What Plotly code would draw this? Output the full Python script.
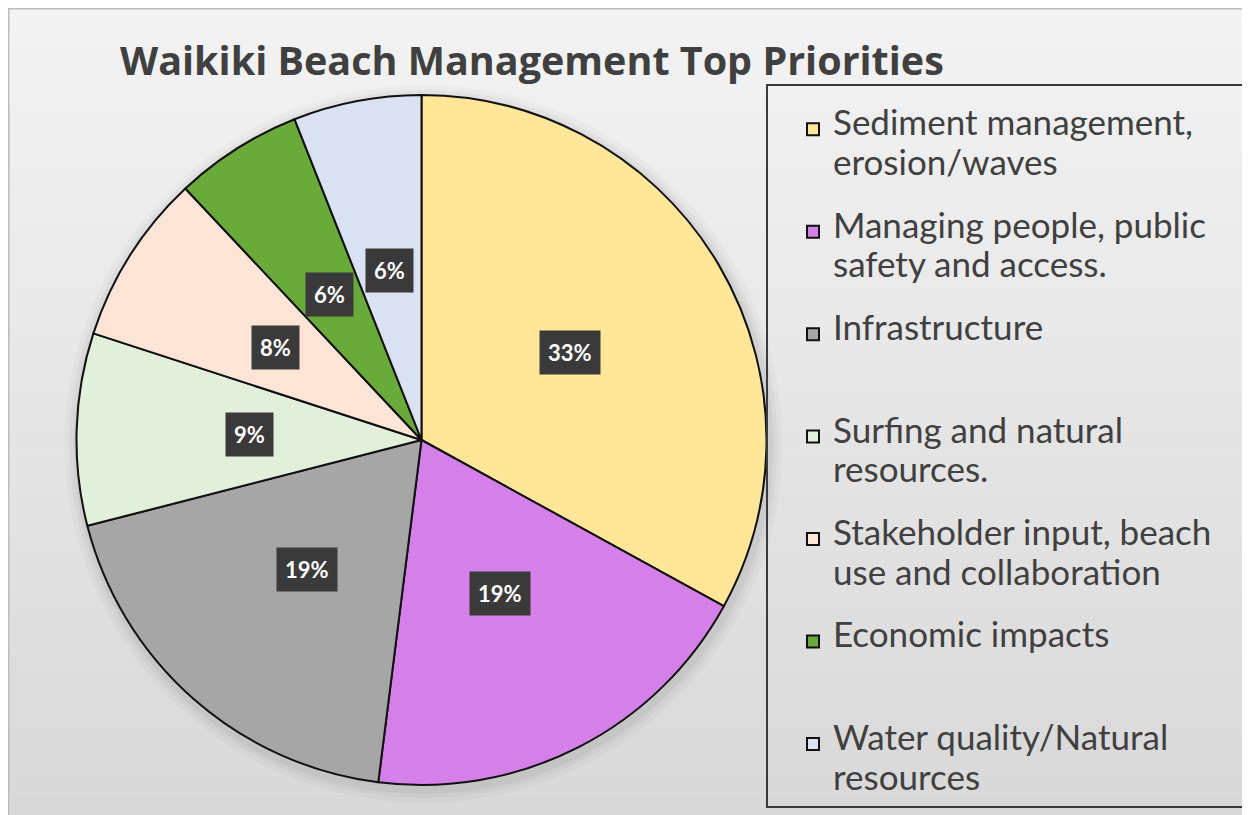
import math
import plotly.graph_objects as go

# ---------------- data ----------------
categories = [
    "Sediment management,|erosion/waves",
    "Managing people, public|safety and access.",
    "Infrastructure|",
    "Surfing and natural|resources.",
    "Stakeholder input, beach|use and collaboration",
    "Economic impacts|",
    "Water quality/Natural|resources",
]
values = [33, 19, 19, 9, 8, 6, 6]
pct_labels = ["33%", "19%", "19%", "9%", "8%", "6%", "6%"]
colors = ["#FFE699", "#D580E8", "#A6A6A6", "#E2EFDA", "#FCE4D6", "#6AAA3A", "#D9E1F2"]

title_text = "Waikiki Beach Management Top Priorities"

# ---------------- layout helpers (screen px of the 1250x815 page) ----------------
OFF = 8                      # page body margin
W, H = 1250 - OFF, 815 - OFF
def fx(X):
    return (X - OFF) / W
def fy(Y):
    return 1 - (Y - OFF) / H

dom_x = [fx(75), fx(768)]
dom_y = [fy(785), fy(95)]
R = min((dom_x[1] - dom_x[0]) * W, (dom_y[1] - dom_y[0]) * H) / 2
cxs = OFF + (dom_x[0] + dom_x[1]) / 2 * W          # screen centre x
cys = OFF + H - (dom_y[0] + dom_y[1]) / 2 * H      # screen centre y

LEG_BASE = 15.3
LEG_VIS = 35

def legend_label(s):
    a, b = s.split("|")
    sp = lambda t: f"<span style='font-size:{LEG_VIS}px'>{t}</span>" if t else "&nbsp;"
    # five text rows: the symbol (valign middle) sits on row 3 = first visible line
    return "<br>".join(["&nbsp;", "&nbsp;", sp(a), "&nbsp;", sp(b)])

labels = [legend_label(c) for c in categories]

fig = go.Figure()
fig.add_trace(go.Pie(
    labels=labels,
    values=values,
    sort=False,
    direction="clockwise",
    rotation=0,
    marker=dict(colors=colors, line=dict(color="#111111", width=2)),
    textinfo="none",
    hoverinfo="label+percent",
    domain=dict(x=dom_x, y=dom_y),
    showlegend=True,
))

# percent label boxes at half radius on each slice's mid angle
total = sum(values)
cum = 0
annotations = []
for v, t in zip(values, pct_labels):
    th = 2 * math.pi * (cum + v / 2) / total
    cum += v
    X = cxs + 0.5 * R * math.sin(th)
    Y = cys - 0.5 * R * math.cos(th)
    annotations.append(dict(
        x=fx(X), y=fy(Y), xref="paper", yref="paper",
        text=f"<b>{t}</b>", showarrow=False,
        font=dict(family="Lato", size=22, color="white"),
        bgcolor="#3a3a3a", borderpad=8,
        xanchor="center", yanchor="middle",
    ))

# background: vertical gradient bands
shapes = []
n = 40
top_c, bot_c = 0xF3, 0xD8
for i in range(n):
    ya = H * i / n
    yb = H * (i + 1) / n
    c = round(top_c + (bot_c - top_c) * (i + 0.5) / n)
    shapes.append(dict(type="rect", xref="paper", yref="paper",
                       x0=0, x1=1, y0=1 - yb / H, y1=1 - ya / H + 0.0005,
                       fillcolor=f"rgb({c},{c},{c})", line=dict(width=0), layer="below"))
shapes.append(dict(type="rect", xref="paper", yref="paper",
                   x0=0, x1=1.01, y0=-0.01, y1=1,
                   fillcolor="rgba(0,0,0,0)", line=dict(color="#bdbdbd", width=3), layer="below"))
# soft shadow behind pie
for k, a in [(14, 0.025), (9, 0.03), (5, 0.04)]:
    r = R + k
    shapes.append(dict(type="circle", xref="paper", yref="paper",
                       x0=fx(cxs - r + 2), x1=fx(cxs + r + 2),
                       y0=fy(cys + r + 4), y1=fy(cys - r + 4),
                       fillcolor=f"rgba(0,0,0,{a})", line=dict(width=0), layer="below"))
# legend frame
shapes.append(dict(type="rect", xref="paper", yref="paper",
                   x0=fx(767), x1=fx(1244), y0=fy(807), y1=fy(85),
                   fillcolor="rgba(0,0,0,0)", line=dict(color="#3a3a3a", width=2), layer="above"))

fig.update_layout(
    width=W, height=H,
    margin=dict(l=0, r=0, t=0, b=0),
    paper_bgcolor="white",
    title=dict(text=f"<b>{title_text}</b>", x=fx(120), xanchor="left",
               y=fy(61), yanchor="middle",
               font=dict(family="Open Sans", size=39.5, color="#404040")),
    legend=dict(
        x=fx(793), y=fy(73), xanchor="left", yanchor="top",
        valign="middle", bgcolor="rgba(0,0,0,0)", borderwidth=0,
        font=dict(family="Lato", size=LEG_BASE, color="#404040"),
        itemclick=False, itemdoubleclick=False,
    ),
    shapes=shapes,
    annotations=annotations,
)

fig.write_html("out.html")
